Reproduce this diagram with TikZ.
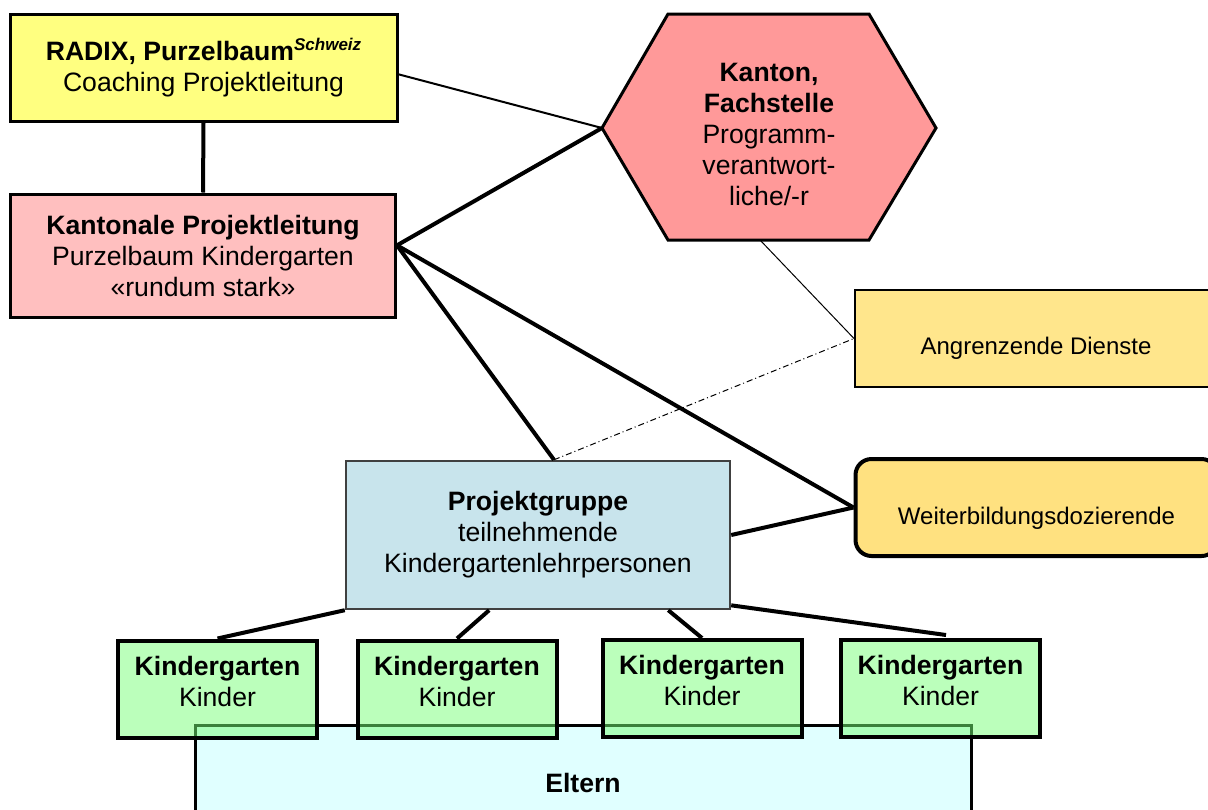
\documentclass[tikz,border=0pt]{standalone}
\usepackage{fontspec}
\setmainfont{Liberation Sans}

\definecolor{radixfill}{RGB}{255,255,128}
\definecolor{kplfill}{RGB}{255,191,191}
\definecolor{kanfill}{RGB}{255,153,153}
\definecolor{angfill}{RGB}{255,230,140}
\definecolor{wbdfill}{RGB}{255,225,128}
\definecolor{pgfill}{RGB}{200,228,236}
\definecolor{kgfill}{RGB}{119,255,119}
\definecolor{eltfill}{RGB}{224,255,255}

\begin{document}
\begin{tikzpicture}[x=0.5pt, y=-0.5pt,
  every node/.style={align=center, inner sep=0pt, font=\fontsize{13.3}{15.5}\selectfont},
  box/.style={draw, rectangle, line width=1.5pt},
  kgbox/.style={box, line width=2pt, fill=kgfill, fill opacity=0.5, text opacity=1, minimum width=99.5pt, minimum height=48.5pt, text depth=8pt},
  sidebox/.style={box, minimum width=181pt, minimum height=48.5pt, font=\fontsize{12}{14}\selectfont},
  link/.style={line width=2pt},
  dashdotline/.style={line width=0.5pt, dash pattern=on 3pt off 1.5pt on 0.5pt off 1.5pt}]
\useasboundingbox (0,0) rectangle (1208,809);
\clip (0,0) rectangle (1208,809);
\node[box, fill=radixfill, minimum width=193.5pt, minimum height=53.5pt] (RDX) at (203.5,67.5) {\textbf{RADIX, Purzelbaum}\raisebox{0.75ex}{\fontsize{8.5}{10}\selectfont\bfseries\itshape Schweiz}\\Coaching Projektleitung};
\node[box, fill=kplfill, minimum width=192.5pt, minimum height=61.5pt] (KPL) at (203,255.5) {\textbf{Kantonale Projektleitung}\\Purzelbaum Kindergarten\\«rundum stark»};
\draw[line width=1.5pt, fill=kanfill] (602,128) coordinate (KANW) -- (668,14) -- (869,14) -- (936,128) -- (869,240) -- (668,240) -- cycle;
\node (KAN) at (769,134) {\textbf{Kanton,}\\\textbf{Fachstelle}\\Programm-\\verantwort-\\liche/-r};
\coordinate (KANS) at (760,240);
\node[sidebox, line width=1pt, fill=angfill, text height=18.8pt] (ANG) at (1036,338.5) {Angrenzende Dienste};
\node[sidebox, line width=2pt, rounded corners=8pt, fill=wbdfill, text height=19.8pt] (WBD) at (1036.5,507.5) {Weiterbildungsdozierende};
\node[box, line width=1.2pt, draw=black!75, fill=pgfill, minimum width=192pt, minimum height=74pt] (PG) at (538,535) {\textbf{Projektgruppe}\\teilnehmende\\Kindergartenlehrpersonen};
\node[box, fill=eltfill, minimum width=388pt, minimum height=58pt] (ELT) at (583,783) {\textbf{Eltern}};
\node[kgbox] (KG1) at (217.5,689) {\textbf{Kindergarten}\\Kinder};
\node[kgbox] (KG2) at (457,689) {\textbf{Kindergarten}\\Kinder};
\node[kgbox] (KG3) at (702,688.5) {\textbf{Kindergarten}\\Kinder};
\node[kgbox] (KG4) at (940.5,688.5) {\textbf{Kindergarten}\\Kinder};
\coordinate (KG4top) at (946,635);
\draw[link] (RDX.south) -- (KPL.north);
\draw[line width=1pt] (RDX.-2) -- (KANW);
\draw[link] (KPL.3) -- (KANW);
\draw[link] (KPL.3) -- (PG.78.5);
\draw[link] (KPL.3) -- (WBD.west);
\draw[link] (PG.east) -- (WBD.west);
\draw[line width=0.5pt] (KANS) -- (ANG.west);
\draw[dashdotline] (PG.78.5) -- (ANG.west);
\draw[link] (PG.south west) -- (KG1.north);
\draw[link] (PG.237.6) -- (KG2.north);
\draw[link] (PG.330.7) -- (KG3.north);
\draw[link] (PG.340.5) -- (KG4top);
\end{tikzpicture}
\end{document}
